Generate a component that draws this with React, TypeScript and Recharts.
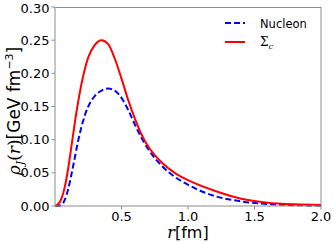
import { LineChart, Line, XAxis, YAxis, Customized } from 'recharts';

const rValues = [0, 0.025, 0.05, 0.075, 0.1, 0.125, 0.15, 0.175, 0.2, 0.225, 0.25, 0.3, 0.35, 0.4, 0.45, 0.5, 0.55, 0.6, 0.65, 0.7, 0.8, 0.9, 1.0, 1.2, 1.4, 1.6, 1.8, 2.0];
const nucleon = [0, 0.0003, 0.002, 0.01, 0.026, 0.049, 0.074, 0.099, 0.12, 0.137, 0.15, 0.166, 0.174, 0.177, 0.174, 0.163, 0.145, 0.123, 0.103, 0.086, 0.061, 0.044, 0.032, 0.015, 0.007, 0.003, 0.0013, 0.0005];
const sigmaC = [0, 0.003, 0.012, 0.03, 0.058, 0.092, 0.127, 0.158, 0.185, 0.207, 0.224, 0.243, 0.25, 0.244, 0.222, 0.192, 0.16, 0.132, 0.108, 0.09, 0.066, 0.05, 0.039, 0.023, 0.011, 0.005, 0.0025, 0.0015];
const xTicks = [0.5, 1.0, 1.5, 2.0];
const yTicks = [0, 0.05, 0.1, 0.15, 0.2, 0.25, 0.3];

const data = rValues.map((r, i) => ({ r, nucleon: nucleon[i], sigma: sigmaC[i] }));

const FONT = 'DejaVu Sans, sans-serif';
const SERIF = 'DejaVu Serif, serif';
const FRAME = '#8c8c8c';

function Overlay() {
  return (
    <g style={{ fontFamily: FONT }}>
      {/* frame top/right */}
      <line x1={55} y1={7.5} x2={321} y2={7.5} stroke={FRAME} />
      <line x1={321} y1={7} x2={321} y2={206} stroke={FRAME} />
      {/* legend */}
      <line x1={225} y1={23} x2={245} y2={23} stroke="#0000ff" strokeWidth={2} strokeDasharray="6 3" />
      <text x={260} y={27.5} fontSize={11.5} fill="#000">Nucleon</text>
      <line x1={225} y1={42} x2={245} y2={42} stroke="#ff0000" strokeWidth={2} />
      <text x={260} y={46} fontSize={12} fill="#000" fontFamily={SERIF}>
        Σ<tspan fontStyle="italic" fontSize={8} dy={2.5}>c</tspan>
      </text>
      {/* axis labels */}
      <text x={188} y={238} textAnchor="middle" fontSize={16} fill="#000">
        <tspan fontStyle="italic" fontFamily={SERIF}>r</tspan>[fm]
      </text>
      <text x={0} y={0} transform="translate(20,111) rotate(-90)" textAnchor="middle" fontSize={17} fill="#000">
        <tspan fontStyle="italic" fontFamily={SERIF}>ρ</tspan>
        <tspan fontStyle="italic" fontFamily={SERIF} fontSize={11} dy={4}>J</tspan>
        <tspan dy={-4} fontFamily={SERIF}>(</tspan>
        <tspan fontStyle="italic" fontFamily={SERIF}>r</tspan>
        <tspan fontFamily={SERIF}>)</tspan>
        <tspan>[GeV fm</tspan>
        <tspan fontSize={11} dy={-7}>−3</tspan>
        <tspan dy={7}>]</tspan>
      </text>
    </g>
  );
}

export default function App() {
  return (
    <div style={{ position: 'absolute', left: 0, top: 0, width: 334, height: 243, background: '#fff' }}>
      <LineChart width={334} height={243} data={data} margin={{ top: 7, right: 13, left: 0, bottom: 0 }}>
        <XAxis
          dataKey="r"
          type="number"
          domain={[0, 2]}
          ticks={xTicks}
          tickFormatter={(v: number) => v.toFixed(1)}
          tick={{ fontSize: 13, fill: '#000', fontFamily: FONT }}
          stroke={FRAME}
          tickSize={3.5}
          height={37}
        />
        <YAxis
          type="number"
          domain={[0, 0.3]}
          ticks={yTicks}
          tickFormatter={(v: number) => v.toFixed(2)}
          tick={{ fontSize: 13, fill: '#000', fontFamily: FONT }}
          stroke={FRAME}
          tickSize={3.5}
          width={55}
        />
        <Line type="monotone" dataKey="nucleon" stroke="#0000ff" strokeWidth={2} strokeDasharray="6 3" dot={false} isAnimationActive={false} />
        <Line type="monotone" dataKey="sigma" stroke="#ff0000" strokeWidth={2} dot={false} isAnimationActive={false} />
        <Customized component={Overlay} />
      </LineChart>
    </div>
  );
}
